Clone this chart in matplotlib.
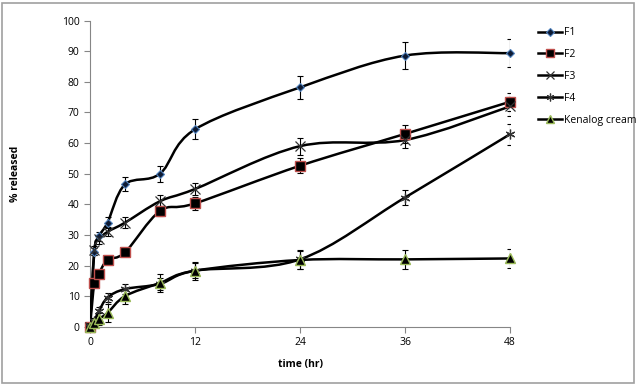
import matplotlib
matplotlib.use("Agg")
import matplotlib.pyplot as plt
from matplotlib.path import Path
from matplotlib.patches import PathPatch, Rectangle
import numpy as np

plt.rcParams['font.family'] = ['Open Sans', 'DejaVu Sans']

time_hr = [0, 0.5, 1, 2, 4, 8, 12, 24, 36, 48]
f1 = [0, 24.5, 29.5, 34.0, 46.5, 50.0, 64.5, 78.2, 88.6, 89.4]
f1_err = [0.5, 1.2, 1.5, 1.8, 2.3, 2.6, 3.3, 3.8, 4.4, 4.6]
f2 = [0, 14.3, 17.3, 21.8, 24.3, 37.8, 40.3, 52.6, 63.0, 73.5]
f2_err = [0.5, 1.0, 1.0, 1.0, 1.0, 1.5, 2.0, 2.5, 3.0, 3.0]
f3 = [0, 25.0, 28.5, 31.0, 34.0, 41.0, 45.0, 59.0, 61.0, 72.0]
f3_err = [0.5, 1.5, 1.5, 1.5, 1.8, 2.0, 2.0, 2.8, 2.5, 3.0]
f4 = [0, 2.0, 5.0, 9.5, 12.3, 14.0, 18.3, 22.0, 42.2, 62.9]
f4_err = [0.5, 1.0, 1.5, 1.5, 1.5, 2.0, 2.5, 3.0, 2.5, 3.5]
kenalog = [0, 1.2, 2.5, 4.5, 10.0, 14.3, 18.3, 21.8, 22.0, 22.3]
kenalog_err = [0.5, 1.5, 2.0, 3.0, 2.5, 3.0, 3.0, 3.0, 3.0, 3.0]
series_names = ['F1', 'F2', 'F3', 'F4', 'Kenalog cream']

fig = plt.figure(figsize=(6.37, 3.85), dpi=100)
ax = fig.add_axes([90/637, 1-326.7/385, 420/637, (326.7-20.7)/385])

def smooth_path(xs, ys):
    xs = np.asarray(xs, float); ys = np.asarray(ys, float)
    n = len(xs)
    verts = [(xs[0], ys[0])]
    codes = [Path.MOVETO]
    for i in range(n - 1):
        i0 = max(i - 1, 0); i3 = min(i + 2, n - 1)
        c1 = (xs[i] + (xs[i+1] - xs[i0]) / 6, ys[i] + (ys[i+1] - ys[i0]) / 6)
        c2 = (xs[i+1] - (xs[i3] - xs[i]) / 6, ys[i+1] - (ys[i3] - ys[i]) / 6)
        verts += [c1, c2, (xs[i+1], ys[i+1])]
        codes += [Path.CURVE4] * 3
    return Path(verts, codes)

styles = [
    dict(marker='D', ms=4.5, mfc='#0d1a33', mec='#4f81bd', mew=0.8),
    dict(marker='s', ms=7, mfc='black', mec='#c0504d', mew=1.0),
    dict(marker='x', ms=7, mfc='none', mec='#333333', mew=0.9),
    dict(marker=(6, 2, 0), ms=7, mfc='none', mec='#333333', mew=0.9),
    dict(marker='^', ms=7, mfc='black', mec='#9bbb59', mew=1.0),
]
data = [(f1, f1_err), (f2, f2_err), (f3, f3_err), (f4, f4_err), (kenalog, kenalog_err)]

handles = []
for (vals, errs), st, name in zip(data, styles, series_names):
    ax.add_patch(PathPatch(smooth_path(time_hr, vals), fill=False, ec='black', lw=1.8, zorder=3))
    ax.errorbar(time_hr, vals, yerr=errs, fmt='none', ecolor='black', elinewidth=0.8,
                capsize=2.5, capthick=0.8, zorder=4)
    ax.plot(time_hr, vals, ls='none', zorder=5, clip_on=False, **st)
    h, = ax.plot([], [], color='black', lw=1.8, **st)
    handles.append(h)

ax.set_xlim(0, 48)
ax.set_ylim(0, 100)
ax.set_xticks([0, 12, 24, 36, 48])
ax.set_yticks(range(0, 101, 10))
for s in ['top', 'right']:
    ax.spines[s].set_visible(False)
for s in ['left', 'bottom']:
    ax.spines[s].set_color('#868686')
    ax.spines[s].set_linewidth(0.8)
ax.tick_params(axis='both', colors='#868686', labelcolor='black', labelsize=7.5, length=4, width=0.8)
ax.set_xlabel('time (hr)', fontsize=7.5, fontweight='bold')
ax.set_ylabel('% released', fontsize=7.5, fontweight='bold')
ax.xaxis.set_label_coords(0.5, -0.105)
ax.yaxis.set_label_coords(-0.165, 0.5)

leg = fig.legend(handles, series_names, loc='upper left', bbox_to_anchor=(534/637, 1-23/385),
                 frameon=False, fontsize=7.5, handlelength=2.3, handletextpad=0.2,
                 labelspacing=1.05, borderaxespad=0, markerscale=0.8)

fig.patches.append(Rectangle((2/637, 2/385), 632/637, 380/385, transform=fig.transFigure,
                             fill=False, ec='#a0a0a0', lw=1.2))
fig.savefig('out.png', dpi=100)
